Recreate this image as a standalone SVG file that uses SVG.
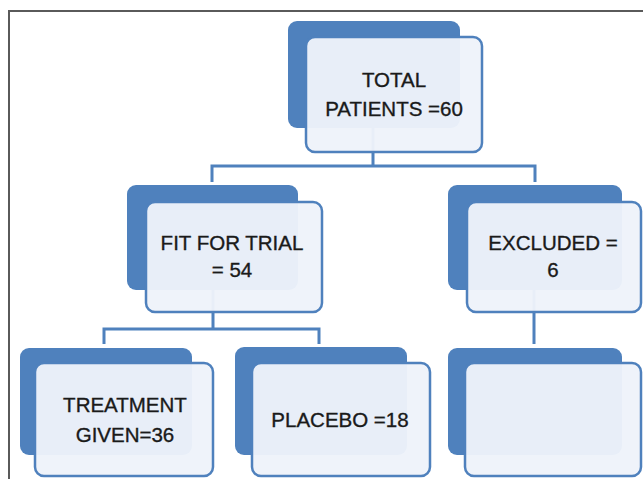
<svg xmlns="http://www.w3.org/2000/svg" width="643" height="479" viewBox="0 0 643 479">
<style>
.back{fill:#4F81BD;}
.front{fill:#EEF3FA;fill-opacity:0.96;stroke:#4F81BD;stroke-width:2.5;}
.lbl{font-family:"Liberation Sans",Arial,sans-serif;font-size:20.5px;fill:#1a1a1a;stroke:#1a1a1a;stroke-width:0.35;text-anchor:middle;}
.conn{fill:none;stroke:#4F81BD;stroke-width:3;}
.frame{fill:none;stroke:#5a5a5a;stroke-width:2;}
</style>
<rect x="0" y="0" width="643" height="479" fill="#ffffff"/>
<path class="frame" d="M9,479 V11 H643"/>
<g id="connectors">
<path class="conn" d="M373,128 V166 M212,182 V166 H535 V182"/>
<path class="conn" d="M213,290 V329 M104,344 V329 H319 V344"/>
<path class="conn" d="M534,290 V344"/>
</g>
<g id="total">
<rect class="back" x="288" y="21" width="172" height="107" rx="9"/>
<rect class="front" x="306" y="37" width="176" height="115" rx="9"/>
<text class="lbl" x="394" y="87">TOTAL</text>
<text class="lbl" x="394" y="116">PATIENTS =60</text>
</g>
<g id="fit">
<rect class="back" x="127" y="185" width="171" height="105" rx="9"/>
<rect class="front" x="146" y="202" width="176" height="110" rx="9"/>
<text class="lbl" x="232" y="250">FIT FOR TRIAL</text>
<text class="lbl" x="232" y="277">= 54</text>
</g>
<g id="excluded">
<rect class="back" x="448" y="185" width="174" height="105" rx="9"/>
<rect class="front" x="467" y="202" width="174" height="110" rx="9"/>
<text class="lbl" x="553" y="250">EXCLUDED =</text>
<text class="lbl" x="553" y="277">6</text>
</g>
<g id="treatment">
<rect class="back" x="20" y="348" width="172" height="107" rx="9"/>
<rect class="front" x="35" y="363" width="178" height="113" rx="9"/>
<text class="lbl" x="125" y="412">TREATMENT</text>
<text class="lbl" x="125" y="442">GIVEN=36</text>
</g>
<g id="placebo">
<rect class="back" x="235" y="347" width="172" height="108" rx="9"/>
<rect class="front" x="252" y="363" width="178" height="113" rx="9"/>
<text class="lbl" x="340" y="427">PLACEBO =18</text>
</g>
<g id="empty">
<rect class="back" x="448" y="348" width="174" height="107" rx="9"/>
<rect class="front" x="465" y="363" width="176" height="113" rx="9"/>
</g>
</svg>
